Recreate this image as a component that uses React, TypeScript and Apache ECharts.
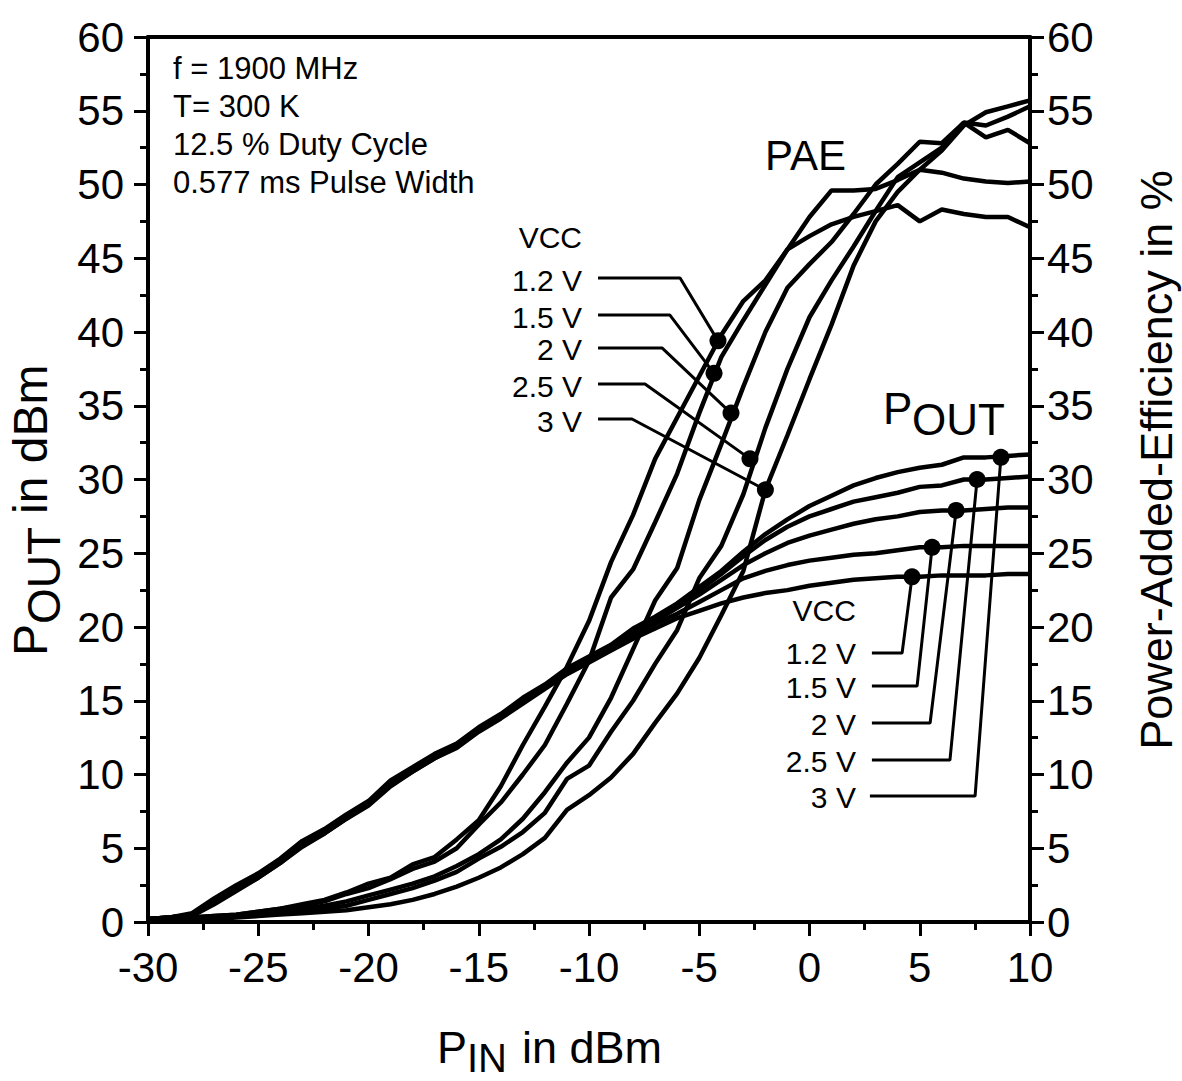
import React, { useEffect, useRef } from "react";
import * as echarts from "echarts";

const FONT = "Liberation Sans, Arial, Helvetica, sans-serif";

// Input power (dBm)
const PIN = [-30, -29, -28, -27, -26, -25, -24, -23, -22, -21, -20, -19, -18, -17, -16, -15, -14, -13, -12, -11, -10, -9, -8, -7, -6, -5, -4, -3, -2, -1, 0, 1, 2, 3, 4, 5, 6, 7, 8, 9, 10];

// Output power (dBm) per VCC
const POUT_1V2 = [0.2, 0.3, 0.4, 1.2, 2.1, 3.0, 4.0, 5.1, 6.0, 7.0, 7.9, 9.2, 10.2, 11.1, 11.8, 12.9, 13.8, 14.8, 15.8, 16.8, 17.6, 18.4, 19.2, 19.9, 20.6, 21.1, 21.6, 22.0, 22.3, 22.5, 22.8, 23.0, 23.2, 23.3, 23.4, 23.4, 23.5, 23.5, 23.5, 23.6, 23.6];
const POUT_1V5 = [0.2, 0.3, 0.5, 1.3, 2.2, 3.0, 4.0, 5.2, 6.0, 7.0, 8.0, 9.3, 10.2, 11.1, 11.9, 13.0, 13.9, 14.9, 15.9, 16.9, 17.7, 18.5, 19.4, 20.2, 20.9, 21.7, 22.5, 23.3, 23.8, 24.2, 24.5, 24.7, 24.9, 25.0, 25.2, 25.4, 25.4, 25.5, 25.5, 25.5, 25.5];
const POUT_2V0 = [0.2, 0.3, 0.5, 1.4, 2.3, 3.1, 4.1, 5.3, 6.1, 7.1, 8.0, 9.4, 10.3, 11.2, 11.9, 13.0, 13.9, 15.0, 15.9, 17.0, 17.8, 18.6, 19.6, 20.4, 21.3, 22.2, 23.2, 24.2, 25.0, 25.7, 26.2, 26.6, 27.0, 27.3, 27.5, 27.8, 27.9, 27.9, 28.0, 28.1, 28.1];
const POUT_2V5 = [0.2, 0.3, 0.5, 1.5, 2.4, 3.2, 4.2, 5.4, 6.2, 7.2, 8.1, 9.5, 10.4, 11.3, 12.0, 13.1, 14.0, 15.1, 16.0, 17.1, 17.9, 18.7, 19.8, 20.6, 21.4, 22.5, 23.6, 24.8, 25.9, 26.8, 27.5, 28.0, 28.5, 28.8, 29.1, 29.5, 29.6, 30.0, 30.0, 30.1, 30.2];
const POUT_3V0 = [0.2, 0.3, 0.6, 1.6, 2.5, 3.3, 4.3, 5.5, 6.3, 7.3, 8.2, 9.6, 10.5, 11.4, 12.1, 13.2, 14.1, 15.2, 16.1, 17.2, 18.0, 18.8, 19.9, 20.7, 21.6, 22.7, 23.8, 25.1, 26.3, 27.3, 28.2, 28.9, 29.6, 30.1, 30.5, 30.8, 31.0, 31.5, 31.5, 31.6, 31.7];

// Power-added efficiency (%) per VCC
const PAE_1V2 = [0.1, 0.2, 0.3, 0.4, 0.5, 0.7, 0.9, 1.2, 1.5, 2.0, 2.6, 3.0, 3.9, 4.4, 5.6, 6.9, 9.2, 12.0, 14.6, 17.3, 20.4, 24.4, 27.6, 31.4, 34.2, 37.0, 39.8, 42.1, 43.5, 45.6, 46.5, 47.3, 47.8, 48.2, 48.6, 47.5, 48.3, 48.0, 47.8, 47.8, 47.1];
const PAE_1V5 = [0.1, 0.2, 0.3, 0.4, 0.5, 0.7, 0.9, 1.1, 1.4, 1.9, 2.3, 2.9, 3.6, 4.1, 5.0, 6.6, 8.1, 10.0, 12.0, 14.8, 17.7, 22.0, 23.9, 27.1, 30.4, 34.5, 38.3, 40.8, 43.2, 45.6, 47.8, 49.6, 49.6, 49.7, 50.3, 51.0, 50.8, 50.4, 50.2, 50.1, 50.2];
const PAE_2V0 = [0.0, 0.1, 0.2, 0.3, 0.4, 0.5, 0.7, 0.9, 1.1, 1.4, 1.8, 2.2, 2.6, 3.1, 3.8, 4.6, 5.6, 7.0, 8.8, 10.8, 12.5, 15.2, 18.5, 21.8, 24.0, 28.6, 32.4, 36.3, 40.0, 43.0, 44.6, 46.1, 48.0, 50.0, 51.4, 52.9, 52.8, 54.2, 53.2, 53.7, 52.8];
const PAE_2V5 = [0.0, 0.1, 0.2, 0.3, 0.4, 0.5, 0.6, 0.7, 0.9, 1.1, 1.5, 1.9, 2.3, 2.8, 3.4, 4.3, 5.1, 6.1, 7.4, 9.7, 10.6, 12.9, 15.0, 17.5, 19.8, 23.3, 25.5, 29.0, 33.5, 37.5, 41.0, 43.5, 45.8, 48.2, 50.5, 51.5, 52.5, 54.2, 54.0, 54.6, 55.3];
const PAE_3V0 = [0.0, 0.1, 0.2, 0.2, 0.3, 0.4, 0.5, 0.6, 0.7, 0.8, 1.0, 1.2, 1.5, 1.9, 2.4, 3.0, 3.7, 4.6, 5.7, 7.6, 8.6, 9.8, 11.4, 13.5, 15.5, 17.9, 20.8, 23.8, 29.3, 33.0, 36.8, 40.5, 44.5, 47.5, 49.5, 51.0, 52.3, 54.0, 54.9, 55.3, 55.7];

const VCC_LABELS = ["1.2 V", "1.5 V", "2 V", "2.5 V", "3 V"];

// Marked points (PIN dBm, value)
const PAE_DOTS = [[-4.15, 39.4], [-4.33, 37.2], [-3.56, 34.5], [-2.7, 31.4], [-2.0, 29.3]];
const POUT_DOTS = [[4.65, 23.4], [5.56, 25.4], [6.65, 27.9], [7.6, 30.0], [8.68, 31.5]];

// Leader-line anchors (data units)
const PAE_LEADER_START_X = [-9.59, -9.59, -9.59, -9.59, -9.59];
const PAE_LEADER_KNEE_X = [-5.87, -6.33, -6.69, -7.46, -8.05];
const PAE_LEADER_Y = [43.66, 41.15, 38.92, 36.47, 34.1];
const POUT_LEADER_START_X = [2.83, 2.83, 2.83, 2.83, 2.74];
const POUT_LEADER_KNEE_X = [4.2, 4.88, 5.47, 6.37, 7.51];
const POUT_LEADER_Y = [18.24, 16.0, 13.49, 10.98, 8.54];

const INFO_LINES = ["f = 1900 MHz", "T= 300 K", "12.5 % Duty Cycle", "0.577 ms Pulse Width"];

const POUT_SETS = [POUT_1V2, POUT_1V5, POUT_2V0, POUT_2V5, POUT_3V0];
const PAE_SETS = [PAE_1V2, PAE_1V5, PAE_2V0, PAE_2V5, PAE_3V0];

const W = 1182;
const H = 1081;

function txt(x: number, y: number, text: string, fontSize: number, align = "left", rotation = 0) {
  return {
    type: "text",
    x,
    y,
    rotation,
    silent: true,
    z: 20,
    style: { text, fontSize, fontFamily: FONT, fill: "#000", align, verticalAlign: "middle" },
  };
}

export default function App() {
  const ref = useRef<HTMLDivElement>(null);

  useEffect(() => {
    if (!ref.current) return;
    const chart = echarts.init(ref.current, undefined, { renderer: "svg", width: W, height: H });

    const axisCommon = {
      type: "value",
      axisLine: { show: true, onZero: false, lineStyle: { color: "#000", width: 4 } },
      axisTick: { show: true, inside: false, length: 14, lineStyle: { color: "#000", width: 3 } },
      minorTick: { show: true, splitNumber: 2, length: 8, lineStyle: { color: "#000", width: 3 } },
      splitLine: { show: false },
      minorSplitLine: { show: false },
    };

    const lineSeries = (arr: number[], yAxisIndex: number) => ({
      type: "line",
      yAxisIndex,
      data: PIN.map((p, i) => [p, arr[i]]),
      symbol: "none",
      silent: true,
      lineStyle: { color: "#000", width: 4.5 },
      z: 3,
    });

    const leader = (pts: number[][]) => ({
      type: "line",
      yAxisIndex: 0,
      data: pts,
      symbol: "none",
      silent: true,
      lineStyle: { color: "#000", width: 3 },
      z: 4,
    });

    const series: any[] = [];
    POUT_SETS.forEach((a) => series.push(lineSeries(a, 0)));
    PAE_SETS.forEach((a) => series.push(lineSeries(a, 1)));
    VCC_LABELS.forEach((_, i) => {
      series.push(leader([[PAE_LEADER_START_X[i], PAE_LEADER_Y[i]], [PAE_LEADER_KNEE_X[i], PAE_LEADER_Y[i]], PAE_DOTS[i]]));
      series.push(leader([[POUT_LEADER_START_X[i], POUT_LEADER_Y[i]], [POUT_LEADER_KNEE_X[i], POUT_LEADER_Y[i]], POUT_DOTS[i]]));
    });
    series.push({ type: "scatter", yAxisIndex: 1, data: PAE_DOTS, symbolSize: 17, itemStyle: { color: "#000", opacity: 1 }, silent: true, z: 6 });
    series.push({ type: "scatter", yAxisIndex: 0, data: POUT_DOTS, symbolSize: 17, itemStyle: { color: "#000", opacity: 1 }, silent: true, z: 6 });

    chart.setOption({
      animation: false,
      backgroundColor: "#fff",
      grid: { left: 148, right: 152, top: 37, bottom: 159, containLabel: false },
      xAxis: [
        {
          ...axisCommon,
          min: -30,
          max: 10,
          interval: 5,
          position: "bottom",
          axisLabel: { fontSize: 42, color: "#000", fontFamily: FONT, margin: 24 },
        },
        {
          type: "value",
          min: -30,
          max: 10,
          position: "top",
          axisLine: { show: true, onZero: false, lineStyle: { color: "#000", width: 4 } },
          axisTick: { show: false },
          axisLabel: { show: false },
          splitLine: { show: false },
        },
      ],
      yAxis: [
        {
          ...axisCommon,
          min: 0,
          max: 60,
          interval: 5,
          position: "left",
          axisLabel: { fontSize: 42, color: "#000", fontFamily: FONT, margin: 24 },
        },
        {
          ...axisCommon,
          min: 0,
          max: 60,
          interval: 5,
          position: "right",
          axisLabel: { fontSize: 42, color: "#000", fontFamily: FONT, margin: 17 },
        },
      ],
      series,
    });

    const toPx = (p: number[]) => chart.convertToPixel({ xAxisIndex: 0, yAxisIndex: 0 }, p) as number[];

    const graphic: any[] = [];
    INFO_LINES.forEach((t, i) => graphic.push(txt(173, 68 + i * 38.3, t, 31)));

    // PAE callouts
    const paeStarts = VCC_LABELS.map((_, i) => toPx([PAE_LEADER_START_X[i], PAE_LEADER_Y[i]]));
    VCC_LABELS.forEach((t, i) => graphic.push(txt(paeStarts[i][0] - 16, paeStarts[i][1] + 2, t, 30, "right")));
    graphic.push(txt(paeStarts[0][0] - 16, paeStarts[0][1] - 41, "VCC", 30, "right"));

    // POUT callouts
    const poutStarts = VCC_LABELS.map((_, i) => toPx([POUT_LEADER_START_X[i], POUT_LEADER_Y[i]]));
    VCC_LABELS.forEach((t, i) => graphic.push(txt(poutStarts[0][0] - 16, poutStarts[i][1] + 1, t, 30, "right")));
    graphic.push(txt(poutStarts[0][0] - 16, poutStarts[0][1] - 42, "VCC", 30, "right"));

    // Curve family labels
    graphic.push(txt(765, 155, "PAE", 42));
    graphic.push(txt(883, 408, "P", 44));
    graphic.push(txt(912, 419, "OUT", 44));

    // X axis title
    graphic.push(txt(437, 1047, "P", 45));
    graphic.push(txt(467, 1058, "IN", 40));
    graphic.push(txt(522, 1047, "in dBm", 45));

    // Left axis title (rotated)
    graphic.push({
      type: "group",
      x: 30,
      y: 656,
      rotation: Math.PI / 2,
      silent: true,
      children: [
        txt(0, 0, "P", 48),
        txt(32, 14, "OUT", 46),
        txt(142, 0, "in dBm", 48),
      ],
    });

    // Right axis title
    graphic.push(txt(1156, 460, "Power-Added-Efficiency in %", 45, "center", Math.PI / 2));

    chart.setOption({ graphic });

    return () => chart.dispose();
  }, []);

  return <div ref={ref} style={{ position: "absolute", left: 0, top: 0, width: W, height: H, background: "#fff" }} />;
}
